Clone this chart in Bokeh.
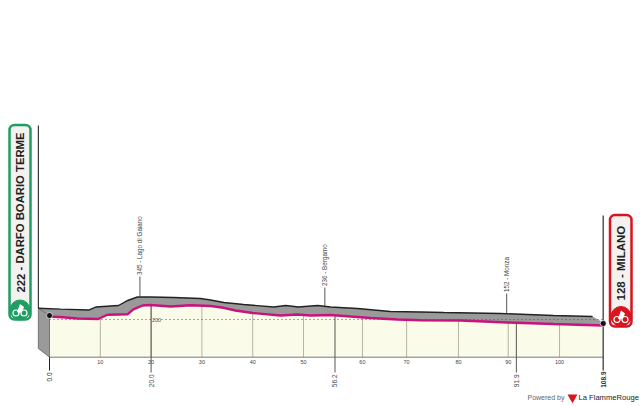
import numpy as np
from bokeh.plotting import figure
from bokeh.models import Range1d, BoxAnnotation
from bokeh.core.properties import value
from bokeh.embed import file_html
from bokeh.resources import INLINE

# Route profile (km, metres)
front_km = [0, 2.6, 5.5, 9.6, 11.4, 15.4, 16.5, 18.3, 19.9, 23.8, 27.8, 31.7, 34.3, 36.6, 40, 45.5, 48.8, 51.4, 55.3, 59.3, 63.2, 68.5, 73, 80.9, 90.2, 99.2, 109]
front_m = [231, 224, 210, 205, 249, 255, 304, 345, 350, 335, 347, 340, 321, 293, 267, 241, 252, 241, 247, 231, 216, 200, 193, 190, 169, 153, 138]
back_km = [-2.2, 2.2, 7.7, 9.1, 13.6, 15.4, 17.3, 19.9, 24.4, 29.7, 31.7, 34.3, 38.2, 44.1, 46.5, 49, 52.8, 55.3, 60.6, 67.1, 73, 77.6, 88.8, 99.2, 106.9]
back_m = [317, 307, 298, 329, 345, 397, 433, 433, 428, 417, 402, 376, 355, 329, 345, 329, 345, 329, 314, 283, 278, 272, 262, 241, 231]
tick_km = [10, 20, 30, 40, 50, 61.6, 70.3, 80.5, 90.3, 100.4]
tick_labels = ["10", "20", "30", "40", "50", "60", "70", "80", "90", "100"]
major_km = [20, 56.2, 91.9]
major_labels = ["20.0", "56.2", "91.9"]
climb_km = [17.8, 54.2, 90]
climb_labels = ["345 - Lago di Gaiano", "236 - Bergamo", "152 - Monza"]
base_m = -190
side_m = -100
end_km = 109
title_start = "222 - DARFO BOARIO TERME"
title_end = "128 - MILANO"

# layout helpers: page pixel -> data
KM_PX, M_PX = 5.08, 0.0966
X = lambda px: (px - 49) / KM_PX
Y = lambda py: 200 + (319 - py) / M_PX

FONT = value("Liberation Sans")

p = figure(width=640, height=406, output_backend="svg", toolbar_location=None,
           x_range=Range1d(X(0), X(640)), y_range=Range1d(Y(406), Y(0)),
           min_border=0, outline_line_color=None, background_fill_color="white")
p.axis.visible = False
p.grid.visible = False

# plain under the route
p.patch([0] + front_km + [end_km], [base_m] + front_m + [base_m], fill_color="#fbfbe9", line_color=None)
# grey top face and left side
p.patch(back_km + [X(592), end_km] + front_km[::-1], back_m + [Y(316), front_m[-1] + 30] + front_m[::-1],
        fill_color="#9a9a9a", line_color=None)
p.patch([back_km[0], 0, 0, back_km[0]], [back_m[0], 240, base_m, side_m], fill_color="#9a9a9a", line_color="#555555", line_width=0.7)

# km grid and baseline
p.segment(tick_km, [base_m] * len(tick_km), tick_km, list(np.interp(tick_km, front_km, front_m)), line_color="#b5b5a5", line_width=1)
p.line([0, end_km], [base_m, base_m], line_color="#777777", line_width=1)
p.line([0, end_km], [200, 200], line_color="#555555", line_width=1, line_dash="1 3")
p.text([X(156)], [200], text=["200"], text_font=FONT, text_font_size="5.5px", text_color="#555555", text_align="center", text_baseline="middle")
p.text(tick_km, [Y(361.5)] * len(tick_km), text=tick_labels, text_font=FONT, text_font_size="5.5px", text_color="#444444", text_align="center", text_baseline="middle")

# major points
p.segment(major_km, [Y(372)] * 3, major_km, list(np.interp(major_km, front_km, front_m)), line_color="#555555", line_width=1)
p.text(major_km, [Y(374)] * 3, text=major_labels, angle=[np.pi / 2] * 3, text_font=FONT, text_font_size="6.5px", text_color="#444444", text_align="right", text_baseline="middle")

# climbs
climb_base = [Y(296), Y(306), Y(313)]
climb_top = [Y(276), Y(287), Y(293)]
p.segment(climb_km, climb_base, climb_km, climb_top, line_color="#555555", line_width=1)
p.text(climb_km, [c + 1.5 / M_PX for c in climb_top], text=climb_labels, angle=[np.pi / 2] * 3, text_font=FONT, text_font_size="6.3px", text_color="#444444", text_align="left", text_baseline="middle")

# route lines
p.line(back_km, back_m, line_color="#222222", line_width=1.4)
p.line(front_km, front_m, line_color="#c9127c", line_width=2.4)

# start and finish poles
p.line([back_km[0]] * 2, [back_m[0], Y(125)], line_color="#111111", line_width=1)
p.line([0, 0], [base_m, Y(370)], line_color="#222222", line_width=1)
p.line([end_km, end_km], [Y(215), Y(370)], line_color="#555555", line_width=1.5)
p.text([0], [Y(372)], text=["0.0"], angle=[np.pi / 2], text_font=FONT, text_font_size="6.5px", text_color="#222222", text_align="right", text_baseline="middle")
p.text([end_km], [Y(371)], text=["108.9"], angle=[np.pi / 2], text_font=FONT, text_font_style="bold", text_font_size="6.5px", text_color="#333333", text_align="right", text_baseline="middle")
p.scatter([0, end_km], [Y(315), Y(323)], size=6, fill_color="#111111", line_color="white", line_width=0.7)

# badges
for (l, r, t, b, col) in [(9, 30, 124.5, 319, "#1e9e63"), (609.5, 631, 214.5, 326, "#d8141e")]:
    p.add_layout(BoxAnnotation(left=X(l), right=X(r), top=Y(t), bottom=Y(b), fill_color="#f3f2ee", fill_alpha=1,
                               line_color=col, line_alpha=1, line_width=2.5, border_radius=5, level="underlay"))
p.text([X(20)], [Y(292)], text=[title_start], angle=[np.pi / 2], text_font=FONT, text_font_style="bold", text_font_size="11.3px", text_color="#222222", text_align="left", text_baseline="middle")
p.text([X(620.5)], [Y(300)], text=[title_end], angle=[np.pi / 2], text_font=FONT, text_font_style="bold", text_font_size="11.5px", text_color="#222222", text_align="left", text_baseline="middle")

# bike icons
for cx, cy, col in [(19.5, 309.5, "#1e9e63"), (620.5, 316, "#d8141e")]:
    p.scatter([X(cx)], [Y(cy)], size=20, fill_color=col, line_color=col)
    p.scatter([X(cx - 4), X(cx + 4)], [Y(cy + 3), Y(cy + 3)], size=6, fill_color=None, line_color="white", line_width=1.2)
    p.patch([X(cx - 3), X(cx), X(cx + 4), X(cx + 2), X(cx - 1)], [Y(cy + 2), Y(cy - 6), Y(cy - 3), Y(cy + 2), Y(cy + 3)], fill_color="white", line_color=None)

# footer
p.text([X(527)], [Y(397)], text=["Powered by"], text_font=FONT, text_font_size="7px", text_color="#666666", text_align="left", text_baseline="middle")
p.scatter([X(572)], [Y(397)], marker="inverted_triangle", size=10, fill_color="#d8141e", line_color=None)
p.text([X(578)], [Y(397)], text=["La FlammeRouge"], text_font=FONT, text_font_size="7.6px", text_color="#222222", text_align="left", text_baseline="middle")

open("out.html", "w").write(file_html(p, INLINE))
